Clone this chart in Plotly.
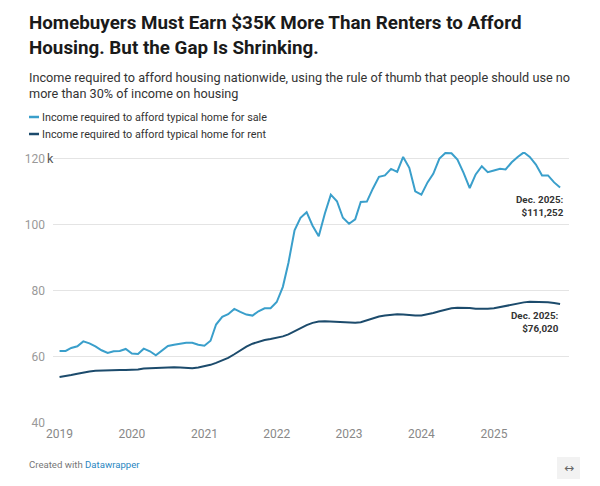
import plotly.graph_objects as go

# ---- data ----
years = [2019, 2020, 2021, 2022, 2023, 2024, 2025]
months = [f"{y}-{m:02d}-01" for y in years for m in range(1, 13)]

sale_income = [
    61.8, 61.8, 62.7, 63.2, 64.7, 64.1, 63.2, 62.0, 61.2, 61.7, 61.8, 62.4,
    61.0, 60.9, 62.5, 61.7, 60.5, 62.0, 63.3, 63.7, 64.1, 64.3, 64.3, 63.7,
    63.4, 64.9, 69.8, 72.1, 72.9, 74.5, 73.6, 72.8, 72.5, 73.8, 74.7, 74.7,
    76.6, 81.2, 88.4, 98.3, 102.1, 103.8, 99.7, 96.5, 103.4, 109.1, 107.1, 102.1,
    100.3, 101.6, 106.9, 107.0, 110.9, 114.5, 114.9, 116.9, 116.0, 120.5, 117.2, 110.1,
    109.1, 112.8, 115.4, 120.0, 121.7, 121.6, 119.7, 115.7, 111.1, 115.2, 117.7, 115.9,
    116.4, 116.9, 116.7, 118.9, 120.5, 121.9, 120.5, 118.2, 114.9, 114.9, 112.8, 111.252,
]
rent_income = [
    53.9, 54.1, 54.5, 54.9, 55.3, 55.6, 55.8, 55.9, 56.0, 56.0, 56.0, 56.0,
    56.0, 56.2, 56.5, 56.6, 56.7, 56.8, 56.9, 56.9, 56.8, 56.7, 56.6, 56.8,
    57.1, 57.6, 58.2, 58.9, 59.7, 60.8, 62.0, 63.1, 64.0, 64.6, 65.1, 65.4,
    65.7, 66.2, 66.8, 67.8, 68.8, 69.6, 70.3, 70.7, 70.8, 70.7, 70.5, 70.4,
    70.3, 70.3, 70.5, 71.1, 71.8, 72.2, 72.5, 72.8, 72.9, 72.8, 72.6, 72.5,
    72.5, 72.8, 73.3, 73.8, 74.3, 74.7, 74.9, 74.9, 74.8, 74.6, 74.5, 74.6,
    74.7, 75.1, 75.5, 75.9, 76.3, 76.5, 76.7, 76.7, 76.7, 76.5, 76.3, 76.02,
]
series_names = ["Income required to afford typical home for sale",
                "Income required to afford typical home for rent"]
end_labels = ["Dec. 2025:<br>$111,252", "Dec. 2025:<br>$76,020"]
y_ticks = [40, 60, 80, 100, 120]
y_tick_labels = ["40", "60", "80", "100", "120"]
x_ticks = [f"{y}-01-01" for y in years]
x_tick_labels = [str(y) for y in years]

SALE_C = "#3a9fcb"
RENT_C = "#1c4b6c"
FONT = "Roboto"

# plot area in pixels
PX_L, PX_R, PY_T, PY_B = 53, 569, 152, 423
W, H = 600, 486


def xp(px):
    return (px - PX_L) / (PX_R - PX_L)


def yp(py):
    return (PY_B - py) / (PY_B - PY_T)


fig = go.Figure()
fig.add_trace(go.Scatter(x=months, y=sale_income, mode="lines", name=series_names[0],
                         line=dict(color=SALE_C, width=2), showlegend=False))
fig.add_trace(go.Scatter(x=months, y=rent_income, mode="lines", name=series_names[1],
                         line=dict(color=RENT_C, width=2), showlegend=False))

ann = []
# Title & subtitle
ann.append(dict(text="<b>Homebuyers Must Earn $35K More Than Renters to Afford</b>",
                x=xp(27), y=yp(23), xanchor="left", yanchor="middle",
                font=dict(family=FONT, size=18.8, color="#1a1a1a")))
ann.append(dict(text="<b>Housing. But the Gap Is Shrinking.</b>",
                x=xp(27), y=yp(48), xanchor="left", yanchor="middle",
                font=dict(family=FONT, size=18.8, color="#1a1a1a")))
ann.append(dict(text="Income required to afford housing nationwide, using the rule of thumb that people should use no",
                x=xp(27), y=yp(77), xanchor="left", yanchor="middle",
                font=dict(family=FONT, size=12.7, color="#333333")))
ann.append(dict(text="more than 30% of income on housing",
                x=xp(27), y=yp(93), xanchor="left", yanchor="middle",
                font=dict(family=FONT, size=12.7, color="#333333")))
# Legend
for nm, py in [(series_names[0], 117), (series_names[1], 134)]:
    ann.append(dict(text=nm, x=xp(40), y=yp(py), xanchor="left", yanchor="middle",
                    font=dict(family=FONT, size=10.8, color="#333333")))
shapes = [
    dict(type="line", xref="paper", yref="paper", x0=xp(29), x1=xp(39), y0=yp(117), y1=yp(117),
         line=dict(color=SALE_C, width=2.5)),
    dict(type="line", xref="paper", yref="paper", x0=xp(29), x1=xp(39), y0=yp(134), y1=yp(134),
         line=dict(color=RENT_C, width=2.5)),
    dict(type="rect", xref="paper", yref="paper", x0=xp(557), x1=xp(580), y0=yp(457), y1=yp(479),
         fillcolor="#f2f2f2", line=dict(width=0)),
]
# "k" unit on top tick
ann.append(dict(text="k", xref="paper", yref="y", x=xp(45), y=120, xanchor="left", yanchor="middle",
                font=dict(family=FONT, size=12.5, color="#555555")))
# End labels
for txt, yv, dx in [(end_labels[0], sale_income[-1], 6), (end_labels[1], rent_income[-1], 1)]:
    ann.append(dict(text=f"<b>{txt}</b>", xref="x", yref="y", x=months[-1], y=yv,
                    xanchor="right", yanchor="middle", align="right", xshift=dx, yshift=-18,
                    font=dict(family=FONT, size=9.8, color="#333333")))
# Footer
ann.append(dict(text="Created with <span style='color:#2a86bf'>Datawrapper</span>",
                x=xp(27), y=yp(464), xanchor="left", yanchor="middle",
                font=dict(family=FONT, size=9.6, color="#777777")))
ann.append(dict(text="↔", x=xp(568.5), y=yp(468), xanchor="center", yanchor="middle",
                font=dict(family="DejaVu Sans", size=12, color="#666666")))

for a in ann:
    a.setdefault("xref", "paper")
    a.setdefault("yref", "paper")
    a["showarrow"] = False

fig.update_layout(
    width=W, height=H,
    margin=dict(l=PX_L, r=W - PX_R, t=PY_T, b=H - PY_B),
    paper_bgcolor="white", plot_bgcolor="white",
    annotations=ann, shapes=shapes,
    font=dict(family=FONT),
    xaxis=dict(type="date", range=["2018-11-29", "2026-01-15"],
               tickvals=x_ticks, ticktext=x_tick_labels,
               showgrid=False, zeroline=False, showline=False, ticks="",
               ticklabelstandoff=2,
               tickfont=dict(family=FONT, size=12, color="#888888")),
    yaxis=dict(range=[40, 122], tickvals=y_ticks, ticktext=y_tick_labels,
               showgrid=True, gridcolor="#e4e4e4", gridwidth=1, zeroline=False,
               showline=False, ticks="", ticklabelstandoff=7,
               tickfont=dict(family=FONT, size=12, color="#999999")),
)

fig.write_html("out.html")
